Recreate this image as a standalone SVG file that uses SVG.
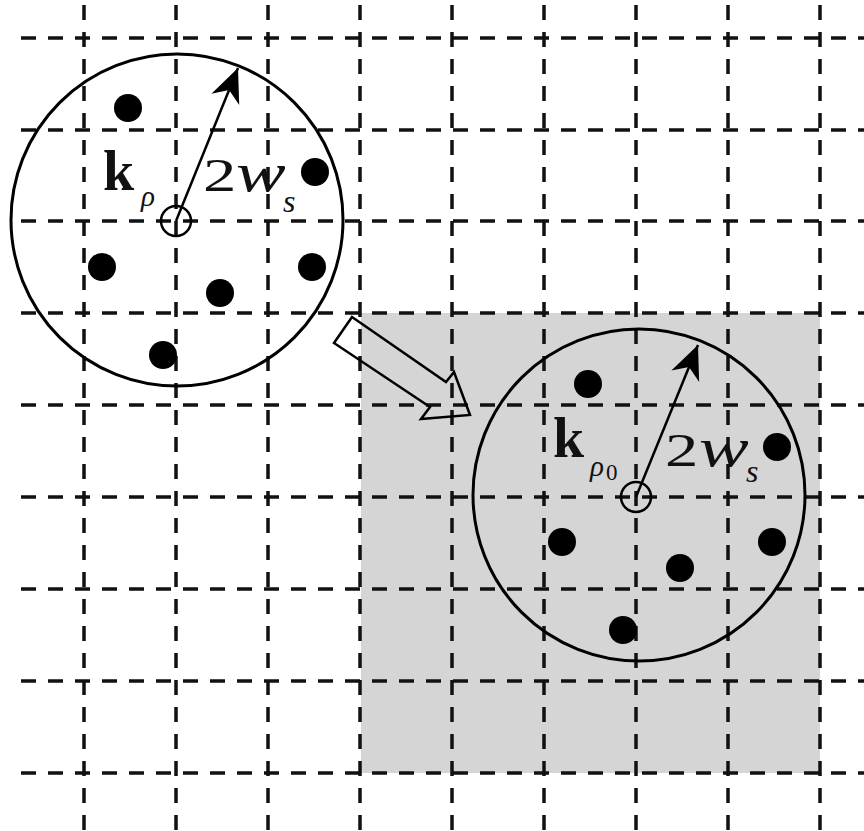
<svg xmlns="http://www.w3.org/2000/svg" width="864" height="831" viewBox="0 0 864 831">
<style>
.h{stroke:#111;stroke-width:3.5;stroke-dasharray:15 12;fill:none}
.v{stroke:#111;stroke-width:3.5;stroke-dasharray:15 12;fill:none}
.big{fill:none;stroke:#000;stroke-width:3}
.ctr{fill:none;stroke:#000;stroke-width:2.5}
.dot{fill:#000}
.rad{stroke:#000;stroke-width:2.5;fill:none}
.t{font-family:"Liberation Serif","Times New Roman",serif;fill:#111}
.b{font-weight:bold}
.i{font-style:italic}
</style>
<defs>
<marker id="ah" markerUnits="userSpaceOnUse" markerWidth="40" markerHeight="40" refX="0" refY="0" viewBox="-30 -15 32 30" orient="auto">
<path d="M0,0 L-27,-12 L-19,0 L-27,12 Z" fill="#000"/>
</marker>
</defs>
<rect id="shade" x="361" y="313" width="459" height="460" fill="#d5d5d5"/>
<g id="grid">
<path class="h" d="M21,38H864M21,130H864M21,221H864M21,313H864M21,405H864M21,497H864M21,589H864M21,681H864M21,773H864"/>
<path class="v" d="M84,5V831M176,5V831M268,5V831M360,5V831M452,5V831M544,5V831M636,5V831M728,5V831M820,5V831"/>
</g>
<g id="node-left">
<circle class="big" cx="177" cy="220" r="166"/>
<circle class="ctr" cx="176" cy="221" r="15"/>
<circle class="dot" cx="128" cy="108" r="14"/>
<circle class="dot" cx="315" cy="172" r="14"/>
<circle class="dot" cx="102" cy="267" r="14"/>
<circle class="dot" cx="312" cy="267" r="14"/>
<circle class="dot" cx="220" cy="293" r="14"/>
<circle class="dot" cx="163" cy="355" r="14"/>
<text class="t b" x="103" y="190" font-size="56">k</text>
<text class="t i" x="141" y="206" font-size="29">ρ</text>
<text class="t" transform="translate(203,191) scale(1.45,1)" font-size="46">2</text>
<text class="t i" transform="translate(236,191) scale(1.38,1)" font-size="54">w</text>
<text class="t i" x="283" y="212" font-size="32">s</text>
</g>
<g id="node-right">
<circle class="big" cx="639" cy="495" r="166"/>
<circle class="ctr" cx="636" cy="497" r="15"/>
<circle class="dot" cx="588" cy="384" r="14"/>
<circle class="dot" cx="777" cy="447" r="14"/>
<circle class="dot" cx="562" cy="542" r="14"/>
<circle class="dot" cx="772" cy="542" r="14"/>
<circle class="dot" cx="680" cy="568" r="14"/>
<circle class="dot" cx="623" cy="630" r="14"/>
<text class="t b" x="553" y="457" font-size="56">k</text>
<text class="t i" x="590" y="476" font-size="29">ρ</text>
<text class="t" x="606" y="480" font-size="23">0</text>
<text class="t" transform="translate(665,466) scale(1.45,1)" font-size="46">2</text>
<text class="t i" transform="translate(699,466) scale(1.38,1)" font-size="54">w</text>
<text class="t i" x="746" y="482" font-size="32">s</text>
</g>
<g id="connectors">
<line class="rad" x1="176" y1="221" x2="238" y2="68" marker-end="url(#ah)"/>
<line class="rad" x1="636" y1="497" x2="698" y2="345" marker-end="url(#ah)"/>
<polygon points="352,317 446,382 454,372 470,415 421,419 430,407 334,343" fill="none" stroke="#000" stroke-width="2.5" stroke-linejoin="miter"/>
</g>
</svg>
